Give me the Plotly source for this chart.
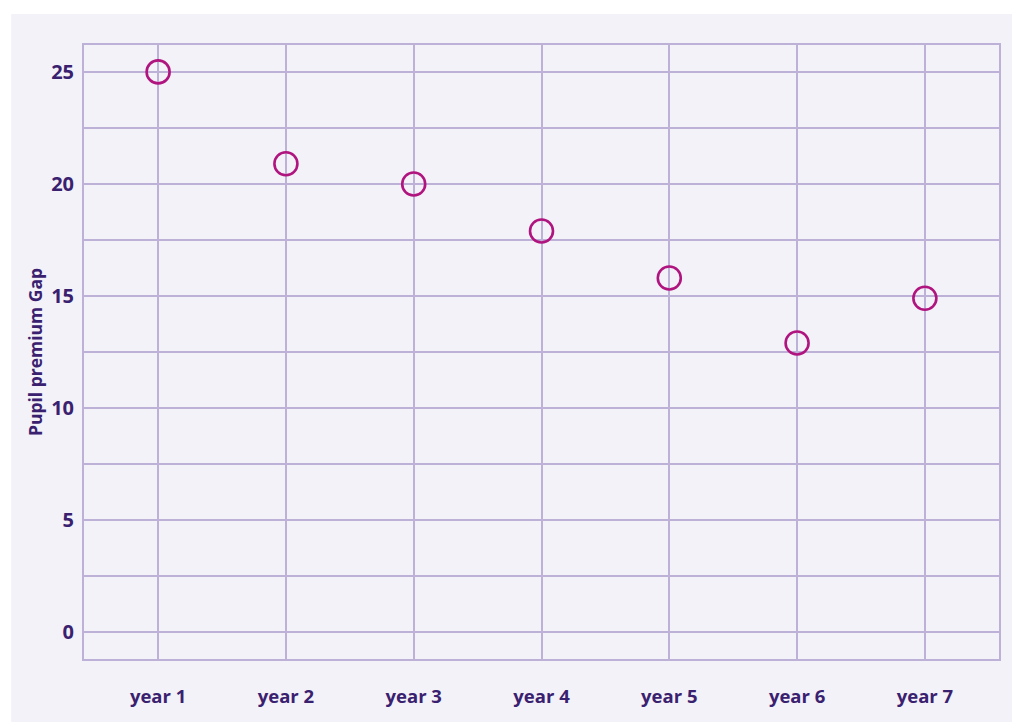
import plotly.graph_objects as go

# data
years = ["year 1", "year 2", "year 3", "year 4", "year 5", "year 6", "year 7"]
gap = [25, 20.9, 20, 17.9, 15.8, 12.9, 14.9]
y_ticks = [0, 5, 10, 15, 20, 25]

text_col = "#3a2170"
grid_col = "#bdb1d8"
bg_col = "#f3f2f8"
marker_col = "#b0157f"

fig = go.Figure()

fig.add_trace(go.Scatter(
    x=list(range(len(years))),
    y=gap,
    mode="markers",
    marker=dict(symbol="circle-open", size=23, color=marker_col,
                line=dict(width=2.6, color=marker_col)),
    showlegend=False,
    hoverinfo="skip",
))

# lavender panel behind the chart
fig.add_shape(type="rect", xref="paper", yref="paper",
              x0=-0.0796, x1=1.02, y0=-0.11, y1=1.0505,
              fillcolor=bg_col, line_width=0, layer="below")

fig.update_layout(
    width=1012, height=722,
    margin=dict(l=84, r=11, t=45, b=63),
    paper_bgcolor="white",
    plot_bgcolor=bg_col,
    font=dict(family="Open Sans", color=text_col),
    xaxis=dict(
        range=[-0.58, 6.58],
        tickvals=list(range(len(years))),
        ticktext=["<b>%s</b>" % y for y in years],
        tickfont=dict(size=18.5),
        showgrid=True, gridcolor=grid_col, gridwidth=2,
        showline=True, linecolor=grid_col, linewidth=2, mirror=True,
        ticks="", ticklabelstandoff=20,
        zeroline=False,
    ),
    yaxis=dict(
        range=[-1.2, 26.2],
        tickvals=y_ticks,
        ticktext=["<b>%d</b>" % v for v in y_ticks],
        tickfont=dict(size=20),
        showgrid=True, gridcolor=grid_col, gridwidth=2,
        minor=dict(dtick=2.5, tick0=0, showgrid=True, gridcolor=grid_col, gridwidth=2),
        showline=True, linecolor=grid_col, linewidth=2, mirror=True,
        ticks="", ticklabelstandoff=4,
        zeroline=False,
        title=dict(text="<b>Pupil premium Gap</b>", font=dict(size=17.5), standoff=4),
    ),
)

fig.write_html("out.html", config={"displayModeBar": False},
               post_script="document.body.style.margin='0';")
